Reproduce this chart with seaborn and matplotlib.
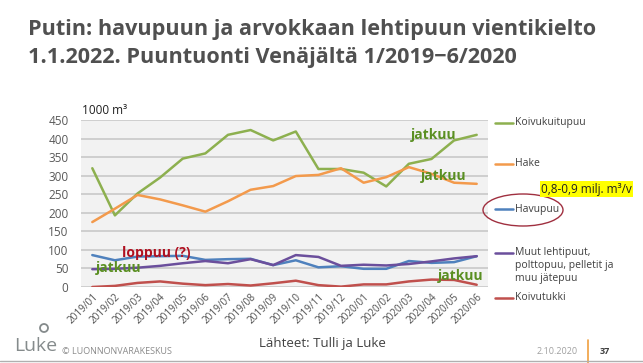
import matplotlib
matplotlib.use("Agg")
import matplotlib.pyplot as plt
import seaborn as sns
import pandas as pd
import numpy as np
from matplotlib.lines import Line2D
from matplotlib.patches import Ellipse

months = ["2019/01", "2019/02", "2019/03", "2019/04", "2019/05", "2019/06",
          "2019/07", "2019/08", "2019/09", "2019/10", "2019/11", "2019/12",
          "2020/01", "2020/02", "2020/03", "2020/04", "2020/05", "2020/06"]
koivukuitupuu = [320, 193, 252, 295, 346, 360, 410, 423, 395, 419, 318, 318, 308, 271, 332, 345, 395, 410]
hake = [175, 211, 248, 236, 220, 203, 231, 262, 272, 299, 302, 320, 281, 296, 323, 305, 281, 278]
havupuu = [86, 72, 82, 83, 84, 73, 75, 76, 59, 72, 53, 56, 49, 49, 70, 65, 67, 83]
muut = [48, 49, 52, 57, 64, 70, 64, 75, 59, 86, 81, 57, 60, 58, 62, 69, 77, 83]
koivutukki = [0, 3, 11, 15, 9, 5, 8, 4, 10, 17, 5, 1, 7, 7, 15, 20, 19, 6]

series_names = ["Koivukuitupuu", "Hake", "Havupuu",
                "Muut lehtipuut,\npolttopuu, pelletit ja\nmuu jätepuu", "Koivutukki"]
series_values = [koivukuitupuu, hake, havupuu, muut, koivutukki]
colors = ["#8db04f", "#f39a4c", "#4f81bd", "#6b4f9c", "#c0504d"]
yticks = [0, 50, 100, 150, 200, 250, 300, 350, 400, 450]

rows = []
for name, vals in zip(series_names, series_values):
    for i, v in enumerate(vals):
        rows.append({"idx": i, "value": v, "series": name})
df = pd.DataFrame(rows)

sns.set_theme(style="white")
plt.rcParams['font.family'] = ['Open Sans', 'DejaVu Sans']

W, H = 643, 363
fig = plt.figure(figsize=(W / 100, H / 100), dpi=100)
fig.patch.set_facecolor("white")

def fx(px):
    return px / W

def fy(py):
    return 1 - py / H

ax = fig.add_axes([fx(81), fy(287), fx(488) - fx(81), fy(120) - fy(287)])
ax.set_facecolor("#f2f2f2")

sns.lineplot(data=df, x="idx", y="value", hue="series", hue_order=series_names,
             palette=colors, linewidth=1.8, legend=False, ax=ax, sort=False)

ax.set_xlim(-0.5, 17.5)
ax.set_ylim(0, 450)
ax.set_yticks(yticks)
ax.set_yticklabels([str(t) for t in yticks], fontsize=8.5, color="#595959")
ax.set_xticks(range(len(months)))
ax.set_xticklabels(months, rotation=45, ha="right", rotation_mode="anchor",
                   fontsize=7.2, color="#505050")
ax.tick_params(axis="y", length=0, pad=9)
ax.tick_params(axis="x", length=0, pad=3)
ax.yaxis.grid(True, color="#c9c9c9", linewidth=1.2)
ax.xaxis.grid(False)
ax.set_axisbelow(True)
for s in ax.spines.values():
    s.set_visible(False)
ax.set_xlabel("")
ax.set_ylabel("")

# unit label
fig.text(fx(82), fy(111), "1000 m³", fontsize=8.5, color="#202020", va="center", ha="left")

# annotations
green_txt = "#5a8f22"
ax.text(15.1, 410, "jatkuu", color=green_txt, fontsize=10, fontweight="bold", ha="center", va="center")
ax.text(15.55, 300, "jatkuu", color=green_txt, fontsize=10, fontweight="bold", ha="center", va="center")
ax.text(16.3, 30, "jatkuu", color=green_txt, fontsize=10, fontweight="bold", ha="center", va="center")
ax.text(1.16, 51, "jatkuu", color=green_txt, fontsize=10, fontweight="bold", ha="center", va="center")
ax.text(1.3, 91, "loppuu (?)", color="#b01020", fontsize=10, fontweight="bold", ha="left", va="center")

# legend drawn manually
leg_y = [123, 164, 209, 253, 298]
for name, col, y in zip(series_names, colors, leg_y):
    fig.add_artist(Line2D([fx(495), fx(513)], [fy(y), fy(y)], color=col, linewidth=1.8))
    if "\n" in name:
        fig.text(fx(515), fy(y) + 6 / H, name, fontsize=7.5, color="#404040",
                 ha="left", va="top", linespacing=1.25)
    else:
        fig.text(fx(515), fy(y), name, fontsize=7.5, color="#404040",
                 ha="left", va="center")

# ellipse around Havupuu
fig.add_artist(Ellipse((fx(523), fy(210)), 80 / W, 32 / H, fill=False,
                       edgecolor="#a03040", linewidth=1.0, transform=fig.transFigure))

# highlighted text
fig.text(fx(541), fy(189), "0,8-0,9 milj. m³/v", fontsize=8.5, color="#202020",
         ha="left", va="center",
         bbox=dict(boxstyle="square,pad=0.1", facecolor="#ffff00", edgecolor="none"))

# title
fig.text(fx(28), fy(30), "Putin: havupuun ja arvokkaan lehtipuun vientikielto",
         fontsize=15.6, fontweight="bold", color="#505050", ha="left", va="center")
fig.text(fx(28), fy(57), "1.1.2022. Puuntuonti Venäjältä 1/2019\u22126/2020",
         fontsize=15.6, fontweight="bold", color="#505050", ha="left", va="center")

# footer
fig.text(fx(14), fy(346), "Luke", fontsize=14, color="#858b8c", ha="left", va="center")
fig.add_artist(Ellipse((fx(44), fy(328)), 8 / W, 8 / H, fill=False,
                       edgecolor="#858b8c", linewidth=1.3, transform=fig.transFigure))
fig.text(fx(62), fy(351), "© LUONNONVARAKESKUS", fontsize=6.5, color="#8a8a8a",
         ha="left", va="center")
fig.text(fx(322), fy(343), "Lähteet: Tulli ja Luke", fontsize=9.5, color="#404040",
         ha="center", va="center")
fig.text(fx(578), fy(351), "2.10.2020", fontsize=6.5, color="#a0a0a0", ha="right", va="center")
fig.add_artist(Line2D([fx(588), fx(588)], [fy(340), fy(363)], color="#f0a040", linewidth=1.2))
fig.text(fx(600), fy(351), "37", fontsize=6.5, color="#404040", fontweight="bold",
         ha="left", va="center")
fig.add_artist(Line2D([0, 1], [fy(361), fy(361)], color="#b0b0b0", linewidth=1.0))

fig.savefig("out.png", dpi=100)
